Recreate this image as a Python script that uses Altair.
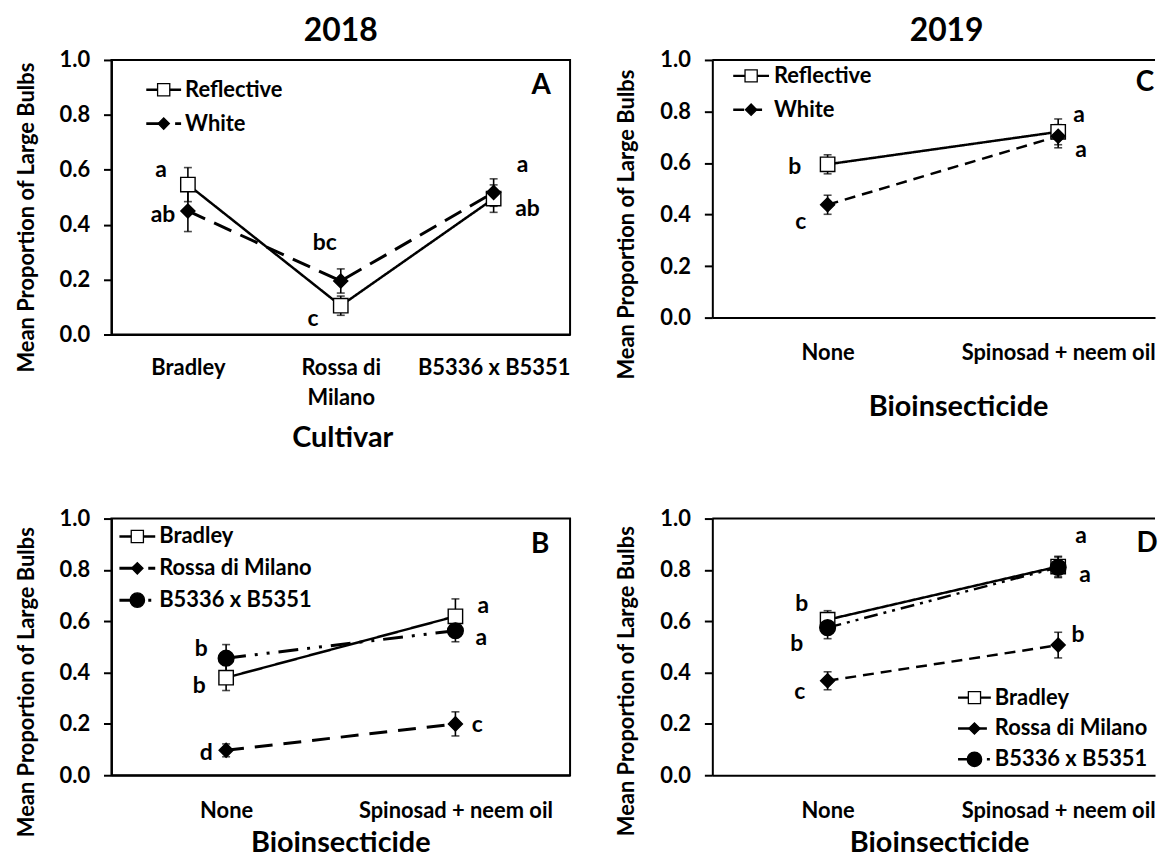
import altair as alt
import pandas as pd

FONT = "Lato"

# ---------------- data ----------------
cultivars = ["Bradley", "Rossa di\nMilano", "B5336 x B5351"]
treatments = ["None", "Spinosad + neem oil"]

# Panel A : 2018, cultivar x mulch
a_series = ["Reflective", "White"]
a_mean = {"Reflective": [0.546, 0.105, 0.495], "White": [0.450, 0.195, 0.517]}
a_err = {"Reflective": [0.062, 0.035, 0.050], "White": [0.075, 0.044, 0.050]}
a_letters = {"Reflective": ["a", "c", "a"], "White": ["ab", "bc", "ab"]}
a_letter_y = {"Reflective": [0.598, 0.058, 0.616], "White": [0.435, 0.333, 0.457]}

# Panel C : 2019, bioinsecticide x mulch
c_series = ["Reflective", "White"]
c_mean = {"Reflective": [0.595, 0.721], "White": [0.438, 0.704]}
c_err = {"Reflective": [0.037, 0.050], "White": [0.037, 0.045]}
c_letters = {"Reflective": ["b", "a"], "White": ["c", "a"]}
c_letter_y = {"Reflective": [0.585, 0.787], "White": [0.369, 0.652]}

# Panel B : 2018, bioinsecticide x cultivar
b_series = ["Bradley", "Rossa di Milano", "B5336 x B5351"]
b_mean = {"Bradley": [0.380, 0.619], "Rossa di Milano": [0.097, 0.200], "B5336 x B5351": [0.456, 0.563]}
b_err = {"Bradley": [0.050, 0.068], "Rossa di Milano": [0.025, 0.047], "B5336 x B5351": [0.053, 0.043]}
b_letters = {"Bradley": ["b", "a"], "Rossa di Milano": ["d", "c"], "B5336 x B5351": ["b", "a"]}
b_letter_y = {"Bradley": [0.349, 0.659], "Rossa di Milano": [0.085, 0.194], "B5336 x B5351": [0.492, 0.535]}

# Panel D : 2019, bioinsecticide x cultivar
d_series = ["Bradley", "Rossa di Milano", "B5336 x B5351"]
d_mean = {"Bradley": [0.606, 0.813], "Rossa di Milano": [0.368, 0.507], "B5336 x B5351": [0.575, 0.810]}
d_err = {"Bradley": [0.035, 0.040], "Rossa di Milano": [0.035, 0.050], "B5336 x B5351": [0.043, 0.040]}
d_letters = {"Bradley": ["b", "a"], "Rossa di Milano": ["c", "b"], "B5336 x B5351": ["b", "a"]}
d_letter_y = {"Bradley": [0.667, 0.930], "Rossa di Milano": [0.326, 0.547], "B5336 x B5351": [0.512, 0.779]}

y_ticks = [0.0, 0.2, 0.4, 0.6, 0.8, 1.0]

# ---------------- styles ----------------
SQUARE = dict(shape="square", fill="white", size=210, lsize=150)
DIAMOND = dict(shape="diamond", fill="black", size=200, lsize=130)
CIRCLE = dict(shape="circle", fill="black", size=250, lsize=210)

styles_A = {"Reflective": dict(dash=[1, 0], sw=2.5, **SQUARE),
            "White": dict(dash=[19, 10], sw=3, **DIAMOND)}
styles_C = {"Reflective": dict(dash=[1, 0], sw=2.5, **SQUARE),
            "White": dict(dash=[11, 7], sw=2.5, **DIAMOND)}
styles_B = {"Bradley": dict(dash=[1, 0], sw=2.5, **SQUARE),
            "Rossa di Milano": dict(dash=[18, 11], sw=3, **DIAMOND),
            "B5336 x B5351": dict(dash=[20, 9, 3, 9, 3, 9], sw=3, **CIRCLE)}
styles_D = {"Bradley": dict(dash=[1, 0], sw=2.5, **SQUARE),
            "Rossa di Milano": dict(dash=[11, 7], sw=2.5, **DIAMOND),
            "B5336 x B5351": dict(dash=[14, 6, 3, 6, 3, 6], sw=2.5, **CIRCLE)}


def label_expr(cats):
    expr = "''"
    for i in reversed(range(len(cats))):
        parts = cats[i].split("\n")
        if len(parts) > 1:
            val = "[" + ",".join("'" + p + "'" for p in parts) + "]"
        else:
            val = "'" + cats[i] + "'"
        expr = f"datum.value == {i} ? {val} : {expr}"
    return expr


def panel(cats, series, means, errs, letters, letter_y, letter_dx, styles,
          width, height, xdom, tag, tag_pos, legend, xtitle, xtitle_x, ytitle_y,
          title=None, title_dx=0, full_box=True, xlab_pad=18, xtitle_pad=14):
    rows = []
    for s in series:
        for i in range(len(cats)):
            m, e = means[s][i], errs[s][i]
            rows.append(dict(series=s, xi=i, mean=m, lo=m - e, hi=m + e))
    df = pd.DataFrame(rows)

    xs = alt.Scale(domain=xdom, nice=False, zero=False)
    ys = alt.Scale(domain=[0, 1], nice=False, zero=True)
    x_axis = alt.Axis(values=list(range(len(cats))), labelExpr=label_expr(cats),
                      ticks=False, grid=False, title=xtitle, labelPadding=xlab_pad,
                      titlePadding=xtitle_pad, titleX=xtitle_x, titleAnchor="start",
                      titleAlign="center", labelLineHeight=30, labelLimit=0)
    y_axis = alt.Axis(values=y_ticks, format=".1f", grid=False, titleY=ytitle_y,
                      titleAnchor="start", titleAlign="center",
                      title="Mean Proportion of Large Bulbs")
    X = alt.X("xi:Q", scale=xs, axis=x_axis)
    Y = alt.Y("mean:Q", scale=ys, axis=y_axis)

    layers = []
    if not full_box:
        top = pd.DataFrame({"k": [0]})
        layers.append(alt.Chart(top).mark_rule(color="black", strokeWidth=2).encode(
            x=alt.value(0), x2=alt.value(width), y=alt.value(0)))
    # lines
    for s in series:
        st = styles[s]
        layers.append(alt.Chart(df).transform_filter(alt.datum.series == s)
                      .mark_line(color="black", strokeWidth=st["sw"], strokeDash=st["dash"])
                      .encode(x=X, y=Y))
    # error bars
    for s in series:
        sub = alt.Chart(df).transform_filter(alt.datum.series == s)
        layers.append(sub.mark_rule(color="black", strokeWidth=1.6).encode(
            x=alt.X("xi:Q", scale=xs), y=alt.Y("lo:Q", scale=ys), y2="hi:Q"))
        for fld in ["lo", "hi"]:
            layers.append(sub.mark_tick(color="black", orient="horizontal", size=8,
                                        thickness=1.6).encode(
                x=alt.X("xi:Q", scale=xs), y=alt.Y(f"{fld}:Q", scale=ys)))
    # markers
    for s in series:
        st = styles[s]
        layers.append(alt.Chart(df).transform_filter(alt.datum.series == s)
                      .mark_point(shape=st["shape"], filled=True, fill=st["fill"],
                                  stroke="black", strokeWidth=1.4, size=st["size"],
                                  opacity=1)
                      .encode(x=X, y=Y))
    # significance letters
    for si, s in enumerate(series):
        for i in range(len(cats)):
            ldf = pd.DataFrame({"xi": [i], "ly": [letter_y[s][i]], "lab": [letters[s][i]]})
            layers.append(alt.Chart(ldf).mark_text(
                font=FONT, fontWeight="bold", fontSize=23, color="black",
                dx=letter_dx[si][i], baseline="middle").encode(
                x=alt.X("xi:Q", scale=xs), y=alt.Y("ly:Q", scale=ys), text="lab:N"))
    # panel tag
    tdf = pd.DataFrame({"t": [tag]})
    layers.append(alt.Chart(tdf).mark_text(font=FONT, fontWeight="bold", fontSize=28,
                                           color="black", baseline="middle").encode(
        x=alt.value(tag_pos[0]), y=alt.value(tag_pos[1]), text="t:N"))
    # legend
    lx0, lx1, tx, ly0, ldy = legend
    for i, s in enumerate(series):
        st = styles[s]
        ly = ly0 + i * ldy
        ldf = pd.DataFrame({"series": [s]})
        base = alt.Chart(ldf)
        layers.append(base.mark_rule(color="black", strokeWidth=st["sw"],
                                     strokeDash=st["dash"]).encode(
            x=alt.value(lx0), x2=alt.value(lx1), y=alt.value(ly)))
        layers.append(base.mark_point(shape=st["shape"], filled=True, fill=st["fill"],
                                      stroke="black", strokeWidth=1.3, size=st["lsize"],
                                      opacity=1).encode(
            x=alt.value((lx0 + lx1) / 2), y=alt.value(ly)))
        layers.append(base.mark_text(font=FONT, fontWeight="bold", fontSize=22,
                                     color="black", align="left", baseline="middle").encode(
            x=alt.value(tx), y=alt.value(ly), text="series:N"))

    props = dict(width=width, height=height)
    if title:
        props["title"] = alt.TitleParams(title, font=FONT, fontSize=32, fontWeight="bold",
                                         color="black", anchor="middle", frame="group",
                                         dx=title_dx, offset=1)
    if not full_box:
        props["view"] = alt.ViewBackground(stroke=None)
    return alt.layer(*layers).properties(**props)


A = panel(cultivars, a_series, a_mean, a_err, a_letters, a_letter_y,
          letter_dx=[[-27, -28, 29], [-25, -16, 34]], styles=styles_A,
          width=461, height=276, xdom=[-0.5, 2.5], tag="A", tag_pos=(432, 26),
          legend=(35, 70, 74, 30, 34), xtitle="Cultivar", xtitle_x=232, ytitle_y=158,
          title="2018", xlab_pad=23, xtitle_pad=16)
C = panel(treatments, c_series, c_mean, c_err, c_letters, c_letter_y,
          letter_dx=[[-33, 21], [-27, 23]], styles=styles_C,
          width=445, height=259, xdom=[-0.5, 1.42], tag="C", tag_pos=(435, 23),
          legend=(21, 57, 62, 16, 34), xtitle="Bioinsecticide", xtitle_x=247, ytitle_y=165,
          title="2019", title_dx=13, full_box=False, xlab_pad=25, xtitle_pad=29)
B = panel(treatments, b_series, b_mean, b_err, b_letters, b_letter_y,
          letter_dx=[[-27, 28], [-20, 22], [-25, 26]], styles=styles_B,
          width=461, height=258, xdom=[-0.5, 1.5], tag="B", tag_pos=(431, 27),
          legend=(8, 44, 48, 18, 32), xtitle="Bioinsecticide", xtitle_x=230, ytitle_y=164,
          xlab_pad=25, xtitle_pad=8)
D = panel(treatments, d_series, d_mean, d_err, d_letters, d_letter_y,
          letter_dx=[[-26, 23], [-28, 20], [-31, 27]], styles=styles_D,
          width=445, height=258, xdom=[-0.5, 1.42], tag="D", tag_pos=(437, 26),
          legend=(247, 280, 284, 180, 31), xtitle="Bioinsecticide", xtitle_x=228, ytitle_y=163,
          full_box=False, xlab_pad=25, xtitle_pad=8)

top = alt.hconcat(A, C, spacing=45)
bottom = alt.hconcat(B, D, spacing=45)
chart = alt.vconcat(top, bottom, spacing=53).properties(
    padding={"left": 6, "top": 4, "right": 0, "bottom": 0}
).configure_view(stroke="black", strokeWidth=2).configure_axis(
    labelFont=FONT, labelFontWeight="bold", labelFontSize=22, labelColor="black",
    titleFont=FONT, titleFontWeight="bold", titleColor="black",
    domainColor="black", domainWidth=2, tickColor="black", tickWidth=2, tickSize=8,
).configure_axisY(
    titleFontSize=22, labelPadding=14, titlePadding=21,
).configure_axisX(
    titleFontSize=29,
)

chart.save("out.html", embed_options={"renderer": "svg", "actions": False})
